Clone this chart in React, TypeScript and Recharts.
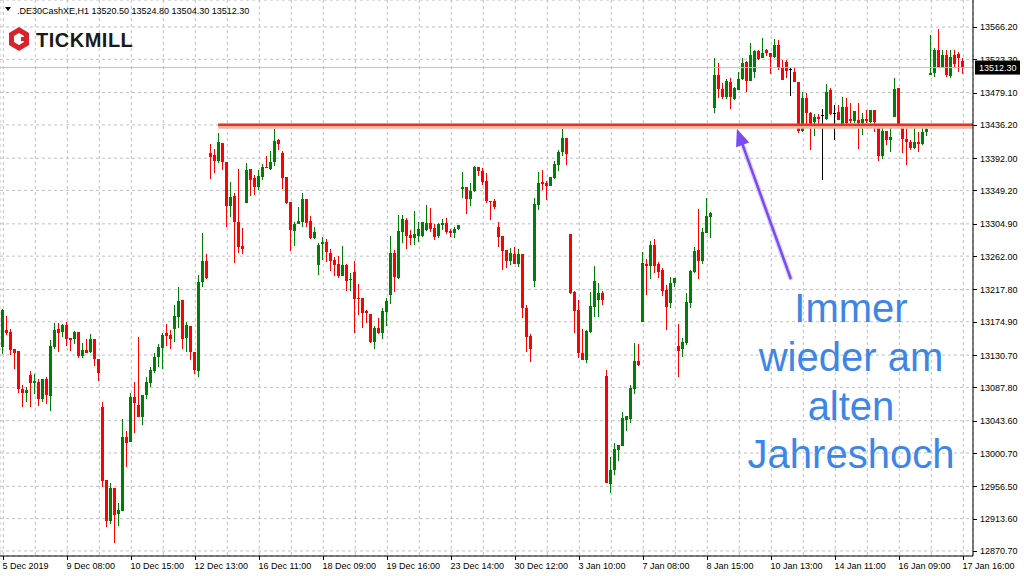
import { ComposedChart, Bar, XAxis, YAxis, CartesianGrid, ReferenceLine } from 'recharts'

// hourly candles, .DE30CashXE H1 (5 Dec 2019 - 17 Jan 2020)
const opens = [
  13141.4, 13164.0, 13161.3, 13138.8, 13136.1, 13085.7, 13080.0, 13104.3, 13093.2, 13095.4,
  13072.8, 13099.0, 13076.4, 13141.8, 13165.7, 13160.9, 13170.2, 13153.8, 13151.6, 13161.3,
  13129.5, 13137.4, 13135.2, 13152.0, 13125.5, 13062.2, 12964.9, 12910.9, 12954.3, 12919.8,
  12923.3, 13022.4, 13015.3, 13075.1, 13064.4, 13048.9, 13077.7, 13094.0, 13110.0, 13127.8,
  13139.7, 13159.6, 13157.4, 13164.9, 13181.6, 13203.8, 13153.0, 13169.7, 13135.2, 13110.0,
  13227.7, 13255.6, 13398.5, 13396.7, 13388.7, 13411.8, 13387.4, 13328.6, 13341.8, 13307.7,
  13275.5, 13331.9, 13377.3, 13366.1, 13354.2, 13367.5, 13380.7, 13377.3, 13387.4, 13415.8,
  13398.9, 13366.7, 13334.3, 13295.4, 13304.3, 13307.7, 13337.9, 13308.7, 13286.5, 13250.3,
  13277.7, 13281.2, 13265.8, 13256.9, 13251.2, 13235.7, 13250.3, 13230.8, 13241.0, 13206.9,
  13206.5, 13189.2, 13185.2, 13148.5, 13166.2, 13160.4, 13188.3, 13210.4, 13265.8, 13233.4,
  13294.5, 13310.0, 13290.1, 13286.5, 13289.2, 13289.2, 13296.7, 13305.6, 13299.0, 13289.2,
  13303.4, 13305.6, 13295.4, 13293.1, 13298.0, 13351.1, 13353.8, 13338.3, 13348.5, 13379.9,
  13375.4, 13361.8, 13335.2, 13335.2, 13301.1, 13288.8, 13270.2, 13255.6, 13264.9, 13251.2,
  13264.5, 13193.6, 13156.0, 13229.4, 13329.9, 13360.0, 13359.5, 13355.1, 13366.1, 13383.0,
  13399.9, 13419.2, 13291.0, 13214.8, 13190.5, 13133.9, 13124.2, 13160.9, 13194.9, 13203.8,
  13212.7, 13102.9, 12959.6, 12978.2, 13004.7, 13010.4, 13044.5, 13045.9, 13085.7, 13122.8,
  13174.2, 13251.6, 13249.3, 13276.8, 13251.6, 13243.6, 13217.1, 13199.4, 13226.8, 13142.8,
  13138.4, 13146.3, 13199.4, 13241.4, 13270.2, 13256.0, 13293.1, 13314.4, 13459.0, 13502.5,
  13483.9, 13472.9, 13493.2, 13470.6, 13482.5, 13497.1, 13520.1, 13494.9, 13506.8, 13534.3,
  13524.6, 13535.6, 13531.3, 13526.7, 13542.3, 13513.5, 13520.1, 13510.0, 13506.8, 13493.6,
  13428.1, 13471.5, 13451.6, 13439.7, 13447.1, 13449.4, 13443.7, 13482.5, 13451.6, 13453.7,
  13436.1, 13460.4, 13444.0, 13441.4, 13442.7, 13438.3, 13444.0, 13440.5, 13456.0, 13436.1,
  13394.9, 13428.5, 13416.2, 13447.1, 13484.8, 13431.7, 13417.5, 13413.1, 13406.0, 13413.1,
  13410.5, 13427.2, 13502.5, 13504.7, 13535.6, 13512.1, 13529.0, 13501.5, 13529.0, 13529.9,
  13520.5,
]

const highs = [
  13191.9, 13182.6, 13165.7, 13138.8, 13136.1, 13091.0, 13088.3, 13110.0, 13105.6, 13098.6,
  13099.0, 13102.0, 13150.7, 13173.7, 13172.9, 13172.0, 13174.2, 13153.8, 13162.7, 13161.3,
  13146.3, 13152.0, 13158.7, 13152.0, 13125.5, 13068.4, 12964.9, 12960.5, 12954.3, 12934.0,
  13045.5, 13029.5, 13080.0, 13095.4, 13155.1, 13077.7, 13101.2, 13115.3, 13133.1, 13145.4,
  13159.6, 13171.6, 13164.0, 13197.2, 13221.5, 13203.8, 13175.0, 13169.7, 13135.2, 13237.0,
  13292.3, 13264.9, 13410.9, 13403.8, 13425.1, 13411.8, 13387.4, 13360.8, 13346.2, 13377.3,
  13299.0, 13385.6, 13377.3, 13369.7, 13376.4, 13383.9, 13394.9, 13401.6, 13430.8, 13417.5,
  13401.6, 13366.7, 13334.3, 13307.7, 13327.2, 13345.8, 13337.9, 13315.7, 13301.1, 13279.1,
  13287.8, 13284.8, 13271.5, 13261.3, 13262.2, 13275.5, 13251.6, 13239.2, 13256.0, 13225.0,
  13206.5, 13190.5, 13185.2, 13169.7, 13180.3, 13192.8, 13206.1, 13288.8, 13270.2, 13316.6,
  13316.6, 13313.1, 13296.7, 13321.9, 13306.9, 13306.9, 13329.9, 13325.5, 13304.3, 13305.6,
  13311.3, 13312.2, 13298.0, 13301.1, 13303.4, 13373.3, 13353.8, 13359.1, 13381.7, 13379.9,
  13378.6, 13372.0, 13335.2, 13337.9, 13306.9, 13288.8, 13270.2, 13272.4, 13273.8, 13271.5,
  13264.5, 13197.2, 13158.3, 13339.6, 13374.1, 13376.4, 13361.8, 13367.5, 13388.3, 13402.9,
  13430.8, 13419.2, 13291.0, 13215.8, 13203.8, 13165.3, 13164.0, 13214.8, 13249.3, 13226.0,
  13215.8, 13110.9, 12995.8, 13013.6, 13011.4, 13054.8, 13049.8, 13091.0, 13147.1, 13145.4,
  13267.9, 13257.8, 13282.1, 13284.4, 13254.6, 13245.9, 13223.7, 13233.9, 13233.4, 13172.0,
  13153.0, 13212.7, 13243.6, 13274.6, 13324.2, 13299.0, 13338.8, 13321.0, 13524.6, 13518.0,
  13492.2, 13496.7, 13498.1, 13486.9, 13506.0, 13525.4, 13521.0, 13544.5, 13535.6, 13535.6,
  13551.2, 13537.0, 13531.3, 13550.2, 13548.9, 13522.4, 13522.4, 13513.5, 13512.7, 13493.6,
  13480.3, 13479.0, 13453.7, 13450.3, 13450.7, 13456.9, 13490.5, 13484.8, 13462.6, 13462.6,
  13473.6, 13471.5, 13464.9, 13454.7, 13464.9, 13452.4, 13456.0, 13456.0, 13456.0, 13436.1,
  13431.7, 13428.5, 13433.8, 13498.1, 13484.8, 13431.7, 13431.7, 13416.2, 13433.8, 13427.2,
  13436.1, 13433.8, 13555.5, 13537.9, 13563.5, 13535.6, 13535.6, 13535.6, 13535.6, 13533.4,
  13524.8,
]

const lows = [
  13132.1, 13157.4, 13130.8, 13112.2, 13080.8, 13062.2, 13068.8, 13061.4, 13079.0, 13063.5,
  13068.8, 13065.8, 13056.9, 13138.8, 13135.2, 13155.1, 13143.2, 13136.5, 13145.0, 13126.4,
  13126.4, 13133.9, 13133.9, 13116.6, 13096.7, 12956.0, 12902.1, 12906.5, 12881.7, 12903.8,
  12923.3, 12982.5, 13015.3, 13027.7, 13048.1, 13038.3, 13072.8, 13088.7, 13107.3, 13115.3,
  13111.8, 13142.8, 13138.8, 13148.5, 13166.2, 13138.8, 13135.2, 13124.2, 13105.6, 13102.0,
  13221.5, 13231.3, 13364.0, 13372.8, 13385.3, 13376.4, 13300.3, 13313.6, 13253.3, 13265.8,
  13264.9, 13331.9, 13342.2, 13343.2, 13349.8, 13363.1, 13378.6, 13376.4, 13382.1, 13402.9,
  13351.1, 13330.8, 13268.8, 13275.9, 13304.3, 13301.1, 13301.1, 13284.8, 13284.8, 13237.0,
  13256.9, 13254.6, 13242.7, 13235.7, 13233.4, 13235.7, 13216.2, 13215.8, 13160.4, 13184.3,
  13167.0, 13172.9, 13147.1, 13139.2, 13158.7, 13152.4, 13169.7, 13198.5, 13214.8, 13231.3,
  13279.9, 13271.5, 13276.8, 13276.8, 13280.4, 13287.8, 13295.4, 13293.7, 13283.4, 13285.7,
  13296.7, 13291.0, 13287.8, 13285.7, 13296.7, 13339.6, 13318.0, 13329.0, 13346.8, 13368.8,
  13356.4, 13332.6, 13310.0, 13324.6, 13274.6, 13243.6, 13246.7, 13250.3, 13251.2, 13248.0,
  13180.3, 13135.2, 13121.9, 13221.5, 13323.3, 13349.8, 13336.5, 13355.1, 13364.4, 13375.4,
  13395.3, 13383.0, 13211.4, 13159.6, 13126.4, 13124.2, 13119.8, 13159.6, 13181.6, 13181.6,
  13197.2, 12960.5, 12947.2, 12971.5, 12990.1, 13010.4, 13029.9, 13040.2, 13078.6, 13116.6,
  13174.2, 13210.4, 13231.7, 13239.3, 13232.6, 13209.1, 13164.0, 13192.8, 13220.7, 13102.0,
  13127.8, 13144.1, 13192.8, 13240.0, 13231.3, 13251.6, 13292.3, 13286.5, 13451.6, 13471.5,
  13470.2, 13470.2, 13456.9, 13469.3, 13482.5, 13495.8, 13479.5, 13494.9, 13498.9, 13522.4,
  13524.6, 13528.1, 13503.4, 13525.4, 13509.1, 13495.8, 13498.1, 13475.0, 13492.8, 13425.1,
  13427.2, 13432.5, 13402.9, 13421.9, 13436.1, 13363.1, 13442.7, 13449.4, 13416.2, 13442.7,
  13433.8, 13433.8, 13438.3, 13438.3, 13404.2, 13422.8, 13438.3, 13439.1, 13427.2, 13388.7,
  13390.6, 13409.5, 13400.6, 13446.3, 13431.7, 13398.5, 13383.0, 13402.9, 13404.2, 13399.9,
  13409.5, 13421.9, 13502.5, 13500.2, 13511.3, 13511.3, 13500.2, 13498.9, 13513.5, 13506.8,
  13504.3,
]

const closes = [
  13190.5, 13160.0, 13137.4, 13133.9, 13085.7, 13080.8, 13084.4, 13093.2, 13096.3, 13072.8,
  13099.0, 13077.7, 13142.8, 13164.0, 13159.6, 13170.6, 13152.4, 13150.7, 13161.3, 13129.5,
  13137.4, 13133.9, 13152.0, 13125.1, 13107.3, 12964.0, 12910.9, 12954.3, 12918.8, 12925.1,
  13022.4, 13014.4, 13075.5, 13067.5, 13048.1, 13077.7, 13095.0, 13110.9, 13127.8, 13141.8,
  13157.4, 13156.4, 13152.0, 13182.6, 13202.1, 13152.0, 13170.6, 13135.2, 13110.9, 13227.3,
  13255.6, 13233.4, 13394.0, 13388.7, 13413.5, 13387.4, 13328.6, 13340.9, 13307.7, 13273.8,
  13271.1, 13376.4, 13363.1, 13354.2, 13368.8, 13380.7, 13378.6, 13387.4, 13414.9, 13410.5,
  13366.1, 13332.2, 13296.7, 13305.1, 13308.7, 13337.9, 13306.4, 13286.5, 13294.5, 13276.8,
  13281.2, 13266.9, 13256.0, 13250.3, 13235.7, 13250.3, 13229.4, 13232.1, 13204.7, 13204.7,
  13187.0, 13186.2, 13148.1, 13166.2, 13160.4, 13189.2, 13202.1, 13265.8, 13234.7, 13295.4,
  13311.3, 13289.2, 13286.5, 13291.4, 13298.0, 13306.9, 13305.6, 13298.0, 13287.8, 13304.3,
  13306.4, 13294.5, 13292.3, 13298.0, 13303.0, 13353.8, 13338.3, 13348.5, 13379.9, 13375.4,
  13360.8, 13335.2, 13333.9, 13327.7, 13287.8, 13268.8, 13255.6, 13265.8, 13251.2, 13264.5,
  13192.8, 13155.1, 13138.8, 13331.2, 13358.7, 13357.8, 13355.1, 13366.7, 13384.3, 13399.9,
  13418.4, 13397.2, 13213.5, 13189.2, 13133.1, 13124.2, 13162.7, 13195.8, 13229.0, 13212.7,
  13203.8, 12960.5, 12978.2, 13006.0, 13011.4, 13047.6, 13049.8, 13087.4, 13122.8, 13117.5,
  13252.5, 13249.3, 13276.8, 13248.9, 13241.4, 13216.2, 13194.9, 13226.0, 13233.4, 13136.5,
  13148.5, 13200.8, 13242.3, 13269.2, 13256.0, 13294.1, 13315.3, 13319.7, 13502.5, 13483.9,
  13472.9, 13494.5, 13473.6, 13485.6, 13497.1, 13518.0, 13494.9, 13529.0, 13534.3, 13523.7,
  13531.3, 13531.3, 13526.7, 13542.3, 13512.1, 13495.8, 13507.8, 13510.0, 13492.8, 13428.1,
  13471.5, 13451.6, 13436.1, 13447.1, 13444.0, 13449.4, 13480.3, 13450.7, 13451.6, 13442.7,
  13460.4, 13438.3, 13441.4, 13454.7, 13438.3, 13443.7, 13441.4, 13456.0, 13440.5, 13394.9,
  13428.5, 13416.2, 13420.6, 13483.5, 13431.7, 13417.5, 13413.1, 13406.0, 13413.1, 13410.5,
  13427.2, 13430.8, 13504.7, 13535.6, 13513.5, 13529.0, 13502.5, 13526.7, 13516.7, 13524.6,
  13512.3,
]

// one label every 16 bars
const timeLabels = [
  '5 Dec 2019', '9 Dec 08:00', '10 Dec 15:00', '12 Dec 13:00', '16 Dec 11:00', '18 Dec 09:00',
  '19 Dec 16:00', '23 Dec 14:00', '30 Dec 12:00', '3 Jan 10:00', '7 Jan 08:00', '8 Jan 15:00',
  '10 Jan 13:00', '14 Jan 11:00', '16 Jan 09:00', '17 Jan 16:00',
]

const priceTicks = [
  13566.2, 13523.3, 13479.1, 13436.2, 13392.0, 13349.2, 13304.9, 13262.0, 13217.8,
  13174.9, 13130.7, 13087.8, 13043.6, 13000.7, 12956.5, 12913.6, 12870.7,
]

const lastPrice = 13512.3
const yearHigh = 13436.5
const header = '.DE30CashXE,H1  13520.50 13524.80 13504.30 13512.30'

const data = opens.map((o, i) => ({
  i,
  o,
  h: highs[i],
  l: lows[i],
  c: closes[i],
  range: [lows[i], highs[i]],
}))

const gridIdx = Array.from({ length: 31 }, (_, k) => k * 8)

const AXIS_FONT = '"Liberation Sans", Arial, sans-serif'

const Candle = (props: any) => {
  const { x, y, width, height, payload } = props
  if (!payload) return null
  const { o, h, l, c } = payload
  const px = Math.floor(x + width / 2)
  const span = h - l
  const py = (v: number) => (span === 0 ? y : y + ((h - v) / span) * height)
  const color = c === o ? '#000000' : c > o ? '#008000' : '#ff0000'
  const top = Math.round(py(Math.max(o, c)))
  const bot = Math.round(py(Math.min(o, c)))
  return (
    <g shapeRendering="crispEdges">
      <line x1={px + 0.5} x2={px + 0.5} y1={Math.round(y)} y2={Math.round(y + height)} stroke={color} strokeWidth={1} />
      {c !== o ? (
        <rect x={px - 1} y={top} width={3} height={Math.max(1, bot - top)} fill={color} />
      ) : (
        <line x1={px - 1} x2={px + 2} y1={top + 0.5} y2={top + 0.5} stroke={color} strokeWidth={1} />
      )}
    </g>
  )
}

const TimeTick = ({ x, y, payload }: any) => {
  const i = payload.value
  if (i % 16 !== 0) return <g />
  const px = Math.floor(x) + 0.5
  return (
    <g>
      <line x1={px} x2={px} y1={y} y2={y + 4} stroke="#000" />
      <text x={px - 1} y={y + 13} fontSize={9} fontFamily={AXIS_FONT} fill="#000" textAnchor="start">
        {timeLabels[i / 16]}
      </text>
    </g>
  )
}

const PriceTick = ({ x, y, payload }: any) => (
  <g>
    <line x1={x} x2={x + 4} y1={Math.round(y) + 0.5} y2={Math.round(y) + 0.5} stroke="#000" />
    <text x={x + 7} y={y + 3.5} fontSize={9} fontFamily={AXIS_FONT} fill="#000">
      {payload.value.toFixed(2)}
    </text>
  </g>
)

const PriceTag = ({ viewBox }: any) => {
  const right = viewBox.x + viewBox.width
  return (
    <g>
      <rect x={right + 2} y={viewBox.y - 7} width={45} height={14} fill="#000" />
      <text x={right + 6} y={viewBox.y + 3.5} fontSize={9} fontFamily={AXIS_FONT} fill="#fff">
        {lastPrice.toFixed(2)}
      </text>
    </g>
  )
}

// segment starts at the arrow tip
const Arrow = (props: any) => {
  const { x1, y1, x2, y2 } = props
  const ang = Math.atan2(y2 - y1, x2 - x1)
  const len = 17
  const wing = 7
  const bx = x1 + Math.cos(ang) * len
  const by = y1 + Math.sin(ang) * len
  const nx = -Math.sin(ang) * wing
  const ny = Math.cos(ang) * wing
  return (
    <g>
      <line x1={bx} y1={by} x2={x2} y2={y2} stroke="#b9a4f6" strokeWidth={5} strokeLinecap="round" opacity={0.5} />
      <line x1={bx} y1={by} x2={x2} y2={y2} stroke="#7a4cf0" strokeWidth={2.5} strokeLinecap="round" />
      <polygon points={`${x1},${y1} ${bx + nx},${by + ny} ${bx - nx},${by - ny}`} fill="#7a4cf0" />
    </g>
  )
}

const YearHighLine = (props: any) => {
  const { x1, y1, x2, y2 } = props
  return (
    <g>
      <line x1={x1} y1={y1 + 1.5} x2={x2} y2={y2 + 1.5} stroke="#f3b3a8" strokeWidth={5} />
      <line x1={x1} y1={y1} x2={x2} y2={y2} stroke="#e8321e" strokeWidth={2.5} />
    </g>
  )
}

export default function App() {
  return (
    <div style={{ position: 'absolute', left: 0, top: 0, width: 1024, height: 576, background: '#fff', overflow: 'hidden' }}>
      <ComposedChart width={1024} height={576} data={data} margin={{ top: 0, right: 0, bottom: 0, left: 0 }}>
        <CartesianGrid stroke="#c0c0c0" strokeDasharray="3 3" />
        <XAxis
          dataKey="i"
          type="number"
          domain={[-0.825, 242.425]}
          ticks={gridIdx}
          interval={0}
          allowDataOverflow
          height={20}
          tickSize={0}
          tickMargin={0}
          tickLine={false}
          axisLine={{ stroke: '#000' }}
          tick={<TimeTick />}
        />
        <YAxis
          orientation="right"
          type="number"
          domain={[12864.0, 13602.0]}
          ticks={priceTicks}
          interval={0}
          allowDataOverflow
          width={51}
          tickSize={0}
          tickMargin={0}
          tickLine={false}
          axisLine={{ stroke: '#000' }}
          tick={<PriceTick />}
        />
        <ReferenceLine y={lastPrice} stroke="#c0c0c0" label={<PriceTag />} />
        <Bar dataKey="range" barSize={3} shape={<Candle />} isAnimationActive={false} />
        <ReferenceLine
          segment={[{ x: 53.7, y: yearHigh }, { x: 242.4, y: yearHigh }]}
          shape={<YearHighLine />}
        />
        <ReferenceLine
          segment={[{ x: 183.4, y: 13431 }, { x: 196.8, y: 13233 }]}
          shape={<Arrow />}
        />
      </ComposedChart>
      <svg width={1024} height={576} style={{ position: 'absolute', left: 0, top: 0, pointerEvents: 'none' }}>
        <polygon points="5,7 11,7 8,11" fill="#000" />
        <text x={17} y={14} fontSize={9} fontFamily={AXIS_FONT} fill="#000">
          {header}
        </text>
        <g>
          <polygon points="19,27 29,33 29,45 19,51 9,45 9,33" fill="#d9232a" />
          <polygon points="19,33 24,36 24,42 19,45 14,42 14,36" fill="#fff" />
          <rect x={21} y={37} width={8} height={4} fill="#d9232a" />
        </g>
        <text x={36} y={47} fontSize={20} fontWeight="bold" fontFamily={AXIS_FONT} fill="#1a1a1a" letterSpacing={0.5}>
          TICKMILL
        </text>
        <text fontSize={40} fontFamily={AXIS_FONT} fill="#3d86e6" textAnchor="middle">
          <tspan x={851} y={322}>Immer</tspan>
          <tspan x={851} y={371}>wieder am</tspan>
          <tspan x={851} y={420}>alten</tspan>
          <tspan x={851} y={468}>Jahreshoch</tspan>
        </text>
      </svg>
    </div>
  )
}
